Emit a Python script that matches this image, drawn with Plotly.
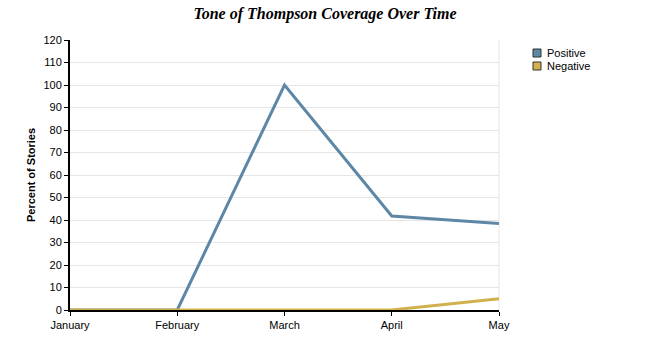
import plotly.graph_objects as go

months = ["January", "February", "March", "April", "May"]
positive = [0, 0, 100, 41.8, 38.5]
negative = [0, 0, 0, 0, 5]
y_ticks = list(range(0, 121, 10))
series_names = ["Positive", "Negative"]

pos_color = "#5E87A6"
neg_color = "#D1B14E"
colors = [pos_color, neg_color]

fig = go.Figure()
fig.add_trace(go.Scatter(x=months, y=positive, mode="lines", name=series_names[0],
                         line=dict(color=pos_color, width=3), showlegend=False))
fig.add_trace(go.Scatter(x=months, y=negative, mode="lines", name=series_names[1],
                         line=dict(color=neg_color, width=3), showlegend=False))

fig.update_layout(
    width=650, height=350,
    margin=dict(l=70, r=151, t=40, b=40),
    paper_bgcolor="white", plot_bgcolor="white",
    title=dict(text="<b><i>Tone of Thompson Coverage Over Time</i></b>",
               x=0.5, xanchor="center", y=0.963, yanchor="middle",
               font=dict(family="Liberation Serif", size=16, color="black")),
    font=dict(family="Liberation Sans", size=11, color="black"),
    showlegend=False,
    xaxis=dict(type="category", range=[0, 4], showgrid=False,
               showline=True, linecolor="black", linewidth=2,
               ticks="outside", ticklen=4, tickcolor="black",
               tickfont=dict(size=11), zeroline=False, fixedrange=True),
    yaxis=dict(range=[0, 120], tickvals=y_ticks, showgrid=True,
               gridcolor="#E6E6E6", gridwidth=1,
               showline=True, linecolor="black", linewidth=2,
               ticks="outside", ticklen=4, tickcolor="black",
               tickfont=dict(size=11), zeroline=False,
               title=dict(text="<b>Percent of Stories</b>", font=dict(size=11), standoff=6)),
)
fig.add_shape(type="line", xref="paper", yref="paper", x0=1, x1=1, y0=0, y1=1,
              line=dict(color="#E6E6E6", width=1), layer="below")

# Legend drawn as squares + text
for i, (nm, c) in enumerate(zip(series_names, colors)):
    yc = 53 + 13 * i
    fig.add_shape(type="rect", xref="paper", yref="paper",
                  x0=(533 - 70) / 429, x1=(541 - 70) / 429,
                  y0=(310 - (yc + 4)) / 270, y1=(310 - (yc - 4)) / 270,
                  fillcolor=c, line=dict(color="#333333", width=1))
    fig.add_annotation(text=nm, xref="paper", yref="paper",
                       x=(545 - 70) / 429, y=(310 - yc) / 270,
                       xanchor="left", yanchor="middle", showarrow=False,
                       font=dict(size=11, color="black"))

fig.write_html("out.html")
